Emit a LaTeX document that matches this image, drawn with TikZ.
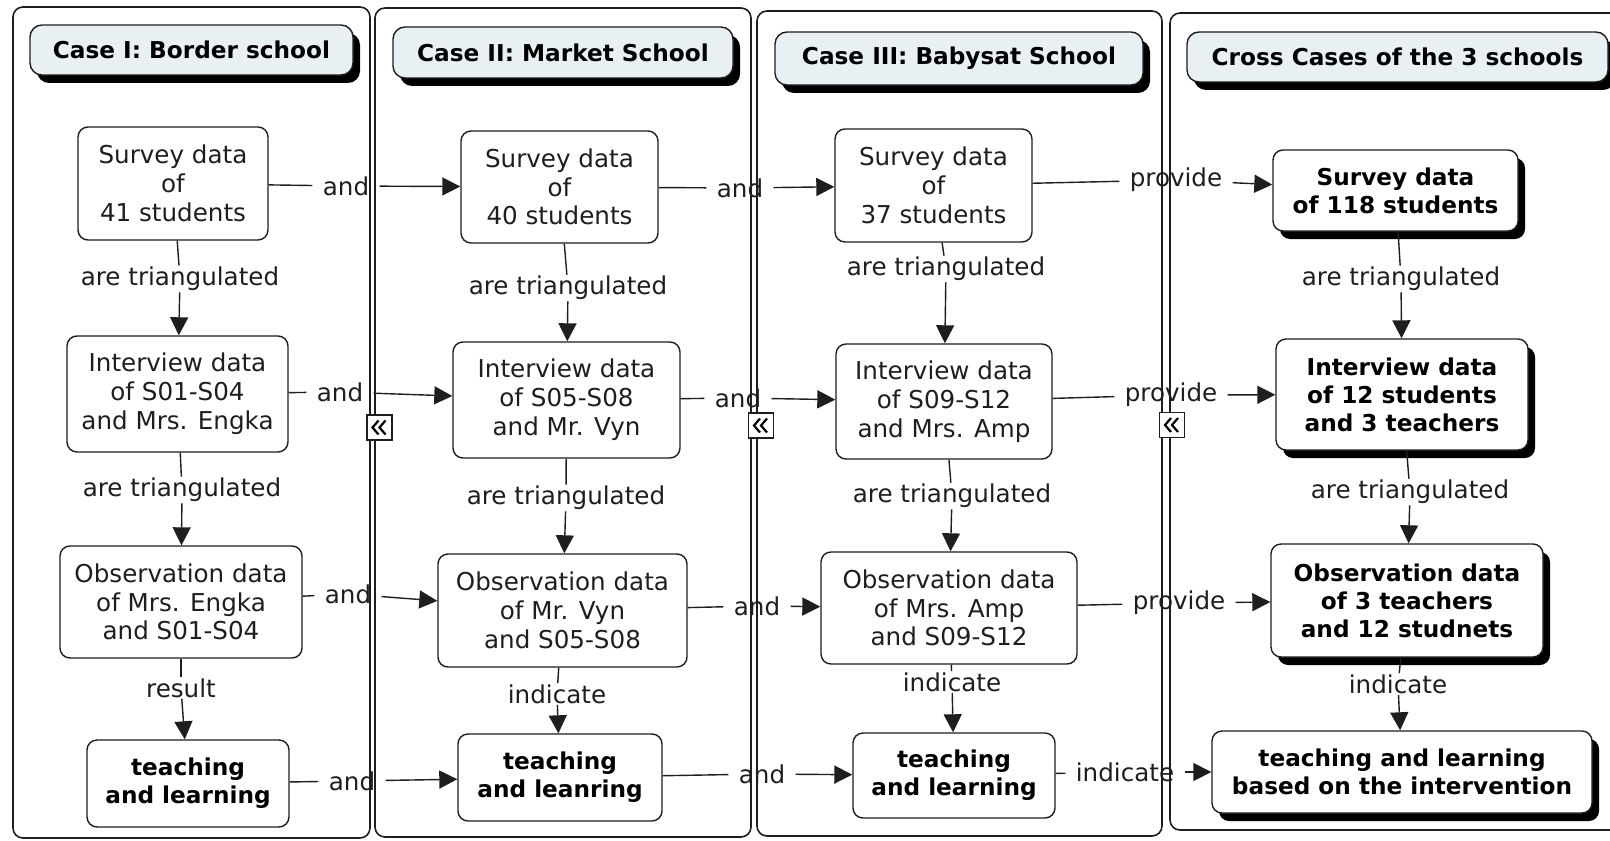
\documentclass[tikz,border=0pt]{standalone}
\usepackage{fontspec}
\setmainfont{DejaVu Sans}
\usetikzlibrary{arrows.meta,shadows}
\definecolor{titlefill}{RGB}{232,240,244}
\definecolor{inkc}{RGB}{30,30,30}
\begin{document}
\begin{tikzpicture}[x=0.5pt,y=-0.5pt,
  txt/.style={font=\fontsize{12.3}{14.4}\selectfont, text=inkc},
  btxt/.style={font=\fontsize{11.6}{14}\selectfont\bfseries, text=black},
  box/.style={draw=inkc, line width=0.7pt, rounded corners=5pt, fill=white, align=center, inner sep=0pt, txt},
  tbox/.style={box, btxt},
  sbox/.style={box, btxt, drop shadow={shadow xshift=3.5pt, shadow yshift=-4pt, fill=black, opacity=1}},
  titlebox/.style={draw=inkc, line width=0.7pt, rounded corners=6pt, fill=titlefill, inner sep=0pt, btxt,
     drop shadow={shadow xshift=3.5pt, shadow yshift=-4pt, fill=black, opacity=1}},
  panel/.style={draw=inkc, line width=0.8pt, rounded corners=5pt},
  lbl/.style={txt, inner xsep=5pt, inner ysep=0.5pt},
  conn/.style={draw=inkc, line width=0.7pt},
  arr/.style={conn, -{Triangle[length=9pt,width=9pt]}},
  icon/.style={draw=inkc, line width=0.7pt, fill=white, minimum width=12.5pt, minimum height=12.5pt, inner sep=0pt},
  chev/.style={draw=black, line width=1.1pt}
]
\useasboundingbox (0,0) rectangle (1610,840);
\fill[white] (0,0) rectangle (1610,840);

% panels
\draw[panel] (13,7) rectangle (370,838);
\draw[panel] (375,8) rectangle (751,837);
\draw[panel] (757,11) rectangle (1162,836);
\draw[panel] (1170,13) rectangle (1640,830);

% titles
\node[titlebox, minimum width=161.5pt, minimum height=25pt] (T1) at (191.5,50) {Case I: Border school};
\node[titlebox, minimum width=170pt, minimum height=25.5pt] (T2) at (563,52.5) {Case II: Market School};
\node[titlebox, minimum width=184pt, minimum height=26.5pt] (T3) at (959,58.5) {Case III: Babysat School};
\node[titlebox, minimum width=210.5pt, minimum height=25pt] (T4) at (1397.5,57) {Cross Cases of the 3 schools};

% column 1
\node[box, minimum width=95pt, minimum height=56.5pt] (s1) at (173,183.5) {Survey data\\of\\41 students};
\node[box, minimum width=110.5pt, minimum height=58pt] (i1) at (177.5,394) {Interview data\\of S01-S04\\and Mrs. Engka};
\node[box, minimum width=121pt, minimum height=56pt] (o1) at (181,602) {Observation data\\of Mrs. Engka\\and S01-S04};
\node[tbox, minimum width=101pt, minimum height=43.5pt] (t1) at (188,783.5) {teaching\\and learning};

% column 2
\node[box, minimum width=98.5pt, minimum height=56pt] (s2) at (559.5,187) {Survey data\\of\\40 students};
\node[box, minimum width=113.5pt, minimum height=58pt] (i2) at (566.5,400) {Interview data\\of S05-S08\\and Mr. Vyn};
\node[box, minimum width=124.5pt, minimum height=56.5pt] (o2) at (562.5,610.5) {Observation data\\of Mr. Vyn\\and S05-S08};
\node[tbox, minimum width=102pt, minimum height=43.5pt] (t2) at (560,777.5) {teaching\\and leanring};

% column 3
\node[box, minimum width=98.5pt, minimum height=56.5pt] (s3) at (933.5,185.5) {Survey data\\of\\37 students};
\node[box, minimum width=108pt, minimum height=57.5pt] (i3) at (944,401.5) {Interview data\\of S09-S12\\and Mrs. Amp};
\node[box, minimum width=128pt, minimum height=56pt] (o3) at (949,608) {Observation data\\of Mrs. Amp\\and S09-S12};
\node[tbox, minimum width=101pt, minimum height=42.5pt] (t3) at (954,775.5) {teaching\\and learning};

% column 4
\node[sbox, minimum width=122.5pt, minimum height=40.5pt] (s4) at (1395.5,190.5) {Survey data\\of 118 students};
\node[sbox, minimum width=126pt, minimum height=55.5pt] (i4) at (1402,394.5) {Interview data\\of 12 students\\and 3 teachers};
\node[sbox, minimum width=136pt, minimum height=56.5pt] (o4) at (1407,600.5) {Observation data\\of 3 teachers\\and 12 studnets};
\node[sbox, minimum width=190pt, minimum height=41pt] (t4) at (1402,772) {teaching and learning\\based on the intervention};

% collapse icons
\foreach \n/\px/\py in {c1/379.5/427.5, c2/761/425.5, c3/1172/425}{
  \node[icon] (\n) at (\px,\py) {};
  \draw[chev] ([shift={(-1,-7)}]\n.center) -- ([shift={(-7,0)}]\n.center) -- ([shift={(-1,7)}]\n.center);
  \draw[chev] ([shift={(6,-7)}]\n.center) -- ([shift={(0,0)}]\n.center) -- ([shift={(6,7)}]\n.center);
}

% horizontal labels
\node[lbl] (h11) at (346,186) {and};
\node[lbl] (h12) at (740,188) {and};
\node[lbl] (h13) at (1176,180) {provide};
\node[lbl] (h21) at (340,392) {and};
\node[lbl] (h22) at (738,398) {and};
\node[lbl] (h23) at (1171,395) {provide};
\node[lbl] (h31) at (348,594) {and};
\node[lbl] (h32) at (757,606) {and};
\node[lbl] (h33) at (1179,603) {provide};
\node[lbl] (h41) at (352,781) {and};
\node[lbl] (h42) at (762,774) {and};
\node[lbl] (h43) at (1125,772) {indicate};

% vertical labels
\node[lbl] (v11) at (180,279) {are triangulated};
\node[lbl] (v12) at (182,490) {are triangulated};
\node[lbl] (v13) at (181,688) {result};
\node[lbl] (v21) at (568,288) {are triangulated};
\node[lbl] (v22) at (566,498) {are triangulated};
\node[lbl] (v23) at (557,694) {indicate};
\node[lbl] (v31) at (946,269) {are triangulated};
\node[lbl] (v32) at (952,496) {are triangulated};
\node[lbl] (v33) at (952,682) {indicate};
\node[lbl] (v41) at (1401,279) {are triangulated};
\node[lbl] (v42) at (1410,492) {are triangulated};
\node[lbl] (v43) at (1398,684) {indicate};

% horizontal connectors
\draw[conn] (s1) -- (h11); \draw[arr] (h11) -- (s2);
\draw[conn] (s2) -- (h12); \draw[arr] (h12) -- (s3);
\draw[conn] (s3) -- (h13); \draw[arr] (h13) -- (s4);
\draw[conn] (i1) -- (h21); \draw[arr] (h21) -- (i2);
\draw[conn] (i2) -- (h22); \draw[arr] (h22) -- (i3);
\draw[conn] (i3) -- (h23); \draw[arr] (h23) -- (i4);
\draw[conn] (o1) -- (h31); \draw[arr] (h31) -- (o2);
\draw[conn] (o2) -- (h32); \draw[arr] (h32) -- (o3);
\draw[conn] (o3) -- (h33); \draw[arr] (h33) -- (o4);
\draw[conn] (t1) -- (h41); \draw[arr] (h41) -- (t2);
\draw[conn] (t2) -- (h42); \draw[arr] (h42) -- (t3);
\draw[conn] (t3) -- (h43); \draw[arr] (h43) -- (t4);

% vertical connectors
\draw[conn] (s1) -- (v11); \draw[arr] (v11) -- (i1);
\draw[conn] (i1) -- (v12); \draw[arr] (v12) -- (o1);
\draw[conn] (o1) -- (v13); \draw[arr] (v13) -- (t1);
\draw[conn] (s2) -- (v21); \draw[arr] (v21) -- (i2);
\draw[conn] (i2) -- (v22); \draw[arr] (v22) -- (o2);
\draw[conn] (o2) -- (v23); \draw[arr] (v23) -- (t2);
\draw[conn] (s3) -- (v31); \draw[arr] (v31) -- (i3);
\draw[conn] (i3) -- (v32); \draw[arr] (v32) -- (o3);
\draw[conn] (o3) -- (v33); \draw[arr] (v33) -- (t3);
\draw[conn] (s4) -- (v41); \draw[arr] (v41) -- (i4);
\draw[conn] (i4) -- (v42); \draw[arr] (v42) -- (o4);
\draw[conn] (o4) -- (v43); \draw[arr] (v43) -- (t4);
\end{tikzpicture}
\end{document}
